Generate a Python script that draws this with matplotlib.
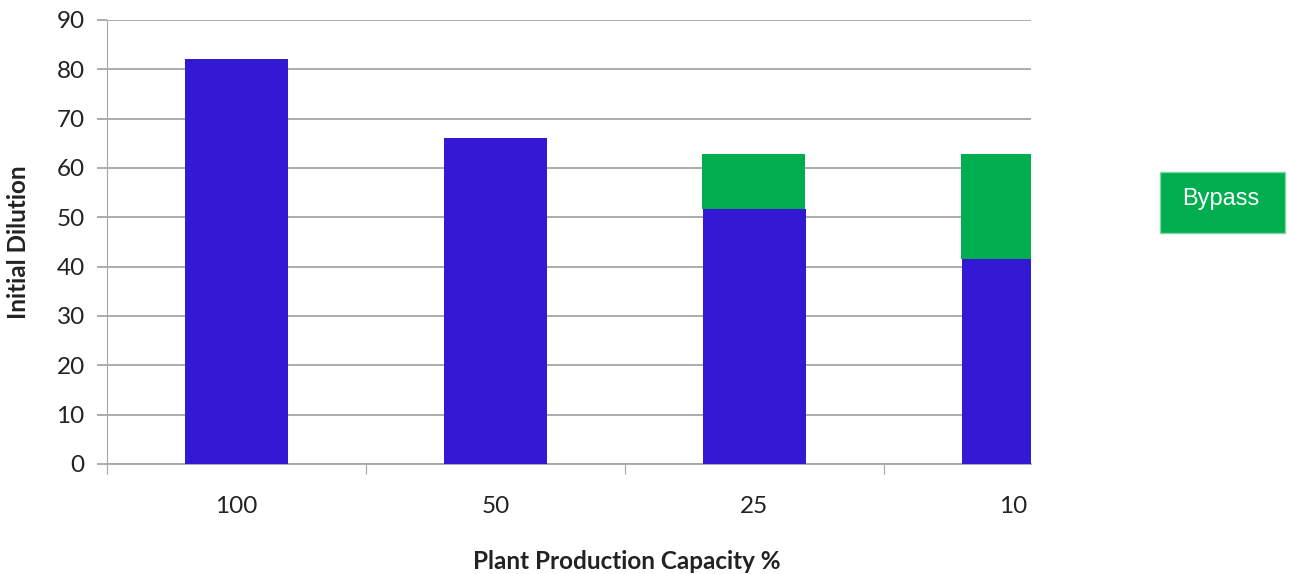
import matplotlib.pyplot as plt
import numpy as np
from matplotlib.patches import Rectangle

# plant production capacity (%) and initial dilution
capacity = ['100', '50', '25', '10']
direct = [82, 66, 51.6, 41.6]
bypass = [0, 0, 11.2, 21.2]
y_ticks = [0, 10, 20, 30, 40, 50, 60, 70, 80, 90]

blue = '#3319D4'
green = '#00AE4F'
grid_col = '#A6A6A6'

plt.rcParams['font.family'] = ['Lato', 'DejaVu Sans']

fig = plt.figure(figsize=(12.91, 5.74), dpi=100)
ax = fig.add_axes([107/1291, 110/574, 924/1291, 444/574])

x = np.arange(len(capacity))
ax.bar(x, direct, width=0.40, color=blue, zorder=3)
ax.bar(x - 0.004, bypass, width=0.40, bottom=direct, color=green, zorder=3)

ax.set_xlim(-0.5, 3.068)
ax.set_ylim(0, 90)
ax.set_yticks(y_ticks)
ax.grid(axis='y', color=grid_col, linewidth=1.3, zorder=0)

# category boundaries carry the tick marks, centres carry the labels
ax.set_xticks(x - 0.5)
ax.set_xticklabels([])
ax.set_xticks(x, minor=True)
ax.set_xticklabels(capacity, minor=True)
ax.tick_params(axis='x', which='major', length=7, color=grid_col, direction='out')
ax.tick_params(axis='x', which='minor', length=0, pad=23, labelsize=17.5, labelcolor='#222222')
ax.tick_params(axis='y', length=7, color=grid_col, width=1.3, pad=9, labelsize=17.5, labelcolor='#222222')

for side in ['top', 'right']:
    ax.spines[side].set_visible(False)
ax.spines['left'].set_color(grid_col)
ax.spines['bottom'].set_color(grid_col)
ax.spines['bottom'].set_linewidth(1.3)

# x label sits centred under the full four-category span
ax.set_xlabel('Plant Production Capacity %', fontsize=17.5, fontweight='bold', color='#222222')
ax.set_ylabel('Initial Dilution', fontsize=17.5, fontweight='bold', color='#222222')
ax.xaxis.set_label_coords(0.562, -0.193)
ax.yaxis.set_label_coords(-0.083, 0.5)

# legend key for the bypass flow
fig.patches.append(Rectangle((1160/1291, (574-233)/574), 125/1291, 61/574,
                             transform=fig.transFigure, facecolor=green,
                             edgecolor='#7FD6A7', linewidth=1))
fig.text(1221/1291, (574-199)/574, 'Bypass', color='white', fontsize=17,
         family='Liberation Sans', ha='center', va='center')

fig.savefig('out.png', dpi=100)
